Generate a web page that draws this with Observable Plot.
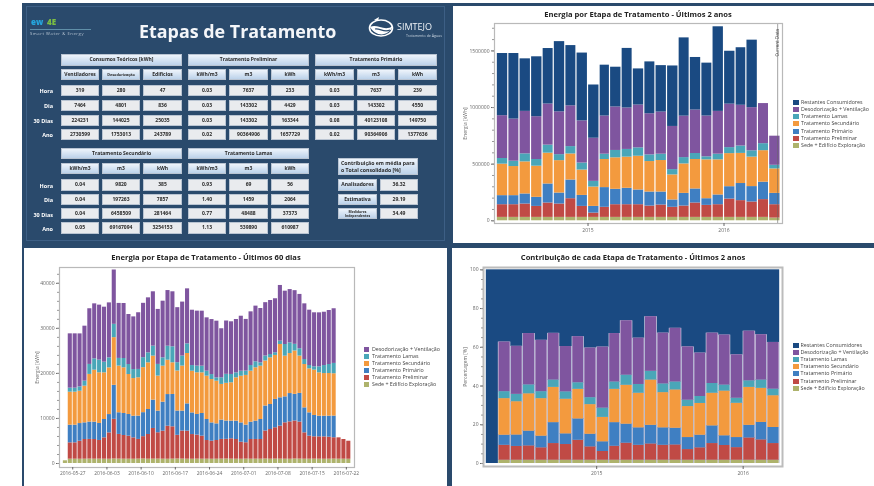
<!DOCTYPE html>
<html lang="pt">
<head>
<meta charset="utf-8">
<script src="https://cdn.jsdelivr.net/npm/d3@7"></script>
<script src="https://cdn.jsdelivr.net/npm/@observablehq/plot@0.6"></script>
<style>
html,body{margin:0;padding:0;background:#fff;width:874px;height:486px;overflow:hidden}
#root{position:relative;width:874px;height:486px;font-family:"Open Sans",sans-serif;filter:blur(.65px)}
.abs{position:absolute}
.panel{position:absolute;background:#fff}
.cell{position:absolute;display:flex;align-items:center;justify-content:center;text-align:center;font-size:5px;color:#2a2a2a;font-weight:700;box-sizing:border-box;line-height:5.5px;border:.5px solid #b9c4d2}
.head{background:linear-gradient(#eef4fb,#bcd2ea)}
.val{background:#e9ebee}
.rowlab{position:absolute;color:#fff;font-weight:700;font-size:5.5px;text-align:right;width:30px}
.title{position:absolute;font-weight:700;font-size:7.6px;color:#222;white-space:nowrap;transform:translateX(-50%);font-family:"Open Sans",sans-serif}
.leg{position:absolute;font-size:5.3px;color:#444;white-space:nowrap;line-height:7px}
.sw{position:absolute;width:5.5px;height:5px}
svg{display:block}
</style>
</head>
<body>
<div id="root"></div>
<script>
// ---- Table values ----
const rowNames = ["Hora","Dia","30 Dias","Ano"];
const consumosTitulo = "Consumos Teóricos [kWh]";
const consumosCols = ["Ventiladores","Desodorização","Edifícios"];
const consumos = [[319,280,47],[7464,4801,836],[224231,144025,25035],[2730599,1753013,243789]];
const unidades = ["kWh/m3","m3","kWh"];
const preliminar = [["0.03",7637,233],["0.03",143302,4429],["0.03",143302,163344],["0.02",90364906,1657729]];
const primario = [["0.03",7637,239],["0.03",143302,4550],["0.08",40123108,149750],["0.02",90364906,1377636]];
const secundario = [["0.04",9820,385],["0.04",197263,7857],["0.04",6458509,281464],["0.05",69167094,3254153]];
const lamas = [["0.93",69,56],["1.40",1459,2064],["0.77",48488,37373],["1.13",539890,610987]];
const contribNomes = ["Analisadores","Estimativa","Medidores Independentes"];
const contribValores = ["36.32","29.19","34.49"];

// ---- Series names and colours ----
const etapas = ["Sede + Edifício Exploração","Tratamento Preliminar","Tratamento Primário","Tratamento Secundário","Tratamento Lamas","Desodorização + Ventilação","Restantes Consumidores"];
const cores = ["#aeb36c","#c04a45","#3f7fc2","#f39a3e","#4aa6b8","#7f559f","#1a4a82"];

// ---- Monthly energy, last 2 years (MWh) ----
const m2Sede = [30,30,30,30,30,30,30,30,30,30,30,30,30,30,30,30,30,30,30,30,30,30,30,30,24];
const m2Prelim = [112,112,118,97,127,118,165,97,38,89,112,112,112,100,109,89,100,127,106,112,162,148,136,157,118];
const m2Prim = [80,80,89,80,168,97,165,97,59,174,136,145,130,124,115,65,112,124,59,86,109,151,136,154,100];
const m2Sec = [278,257,283,275,272,286,230,224,171,248,278,275,298,269,278,221,260,260,343,310,292,266,260,278,216];
const m2Lamas = [50,47,71,59,71,53,65,62,50,47,65,68,74,59,56,47,56,53,27,50,53,65,56,62,32];
const m2Desod = [378,372,375,378,363,378,360,372,381,337,384,366,378,363,372,381,366,384,360,378,384,360,381,354,257];
const m2Rest = [549,579,464,529,490,620,532,599,470,449,351,526,319,458,410,534,691,464,467,747,467,508,596,0,0];

// ---- Share per stage, last 2 years (%) ----
const pSede = [0,1.7,1.7,1.7,1.7,1.7,1.7,1.7,1.7,1.7,1.7,1.7,1.7,1.7,1.7,1.7,1.7,1.7,1.7,1.7,1.7,1.7,1.7,1.7];
const pPrelim = [0,7.7,7.1,7.4,6.4,8.6,8.1,10.3,6.9,4.5,7.2,8.8,7.7,8.4,7.7,7.9,5.5,6.4,8.6,7.6,6.5,11.5,10.5,8.6];
const pPrim = [0,5.2,5.9,7.6,6.0,10.8,5.5,11.0,6.5,5.0,12.2,9.8,9.0,9.6,9.0,8.6,6.2,6.5,9.1,5.0,5.2,6.5,9.0,8.3];
const pSec = [0,18.9,17.2,19.3,19.4,18.2,17.9,15.3,15.3,12.6,17.2,20.1,17.9,23.4,18.2,19.8,16.0,16.4,16.9,23.1,17.7,19.6,17.6,16.4];
const pLamas = [0,3.6,3.8,4.6,3.6,3.8,3.8,3.4,3.6,4.8,3.8,5.2,4.5,4.5,4.5,4.1,3.3,3.6,5.0,3.1,2.6,3.4,4.3,3.4];
const pDesod = [0,25.6,24.8,26.5,26.5,24.1,23.4,23.8,25.6,31.5,25.0,28.1,23.9,28.2,26.2,27.7,27.5,22.4,26.0,25.8,22.4,25.6,23.4,24.1];
const pRest = [100,37.2,39.6,32.9,36.3,32.7,39.6,34.4,40.3,39.9,32.9,26.3,35.3,24.1,32.7,30.1,39.8,43.0,32.7,33.7,43.9,31.5,33.6,37.5];

// ---- Daily energy, last 60 days (kWh) ----
const dSede = [600,960,960,950,960,980,960,970,960,950,1000,980,960,960,950,980,1000,960,970,980,960,950,970,1000,980,960,950,970,960,960,950,960,980,1000,970,960,950,980,960,970,960,1000,960,980,970,960,950,1000,980,960,960,970,960,950,960,980,960,960,950];
const dPrelim = [0,3626,3626,3996,4366,4366,4366,4144,4736,5846,8806,5476,5254,5106,4736,4366,4958,5476,6808,5846,6216,7326,7178,5254,6216,6216,5476,5328,5106,4144,3996,4144,4366,4366,4514,4366,3774,3626,4366,4366,4366,6216,6586,6956,7326,8066,8288,8436,8214,5846,5106,4958,4958,4958,4884,4736,4736,4366,3996];
const dPrim = [0,3922,3922,3922,3700,3848,3848,3774,4070,4070,7548,4810,4884,4810,4810,5180,5328,5550,6290,4810,6438,7030,7178,5402,4440,6068,4810,4588,5032,4662,4070,3700,4292,4070,3922,4070,4292,3922,3848,4070,4440,5550,5550,6290,6290,5772,6290,5920,6364,5550,5180,4736,4588,4588,4662,4810,0,0,0];
const dSec = [0,7326,7326,7178,8140,10582,11544,11248,10360,10360,10582,10360,10138,8880,8362,8510,9990,10360,9768,7770,7992,7622,7030,8880,9990,11174,9250,9250,9028,9620,9620,9472,7918,8362,8510,9620,10360,11026,11322,11840,11840,9990,10360,9768,11840,9028,8880,9620,8288,9620,9768,10064,9620,9472,9472,9398,0,0,0];
const dLamas = [0,888,888,962,1110,2220,2516,2812,2368,2220,2960,1702,2072,2220,1998,1850,2220,2220,2220,2590,1850,3108,3552,1850,2220,2146,1258,1480,1480,1110,1110,740,1480,1998,1850,1110,1110,962,1258,1332,740,1110,740,592,740,2590,2368,1480,1628,1110,740,740,1332,1776,1998,2294,0,0,0];
const dDesod = [0,12062,12062,11766,12210,12358,12210,12210,12210,12210,12062,12210,12210,11100,11692,12580,12062,12210,12062,12210,12580,12358,12210,12210,11988,12210,12284,12210,12210,11840,12210,12580,10878,11840,11692,11840,12210,11470,11914,12358,12062,11840,11988,11988,12358,11840,11840,11914,12062,12358,12284,11988,11988,11840,11988,12136,0,0,0];

// ---- Ticks ----
const anosTicks = [new Date(Date.UTC(2015,0,1)), new Date(Date.UTC(2016,0,1))];
const diasTicks = ["2016-05-27","2016-06-03","2016-06-10","2016-06-17","2016-06-24","2016-07-01","2016-07-08","2016-07-15","2016-07-22"].map(s=>new Date(s));
const currentData = new Date("2016-05-24");
const ticksAnual = [0,500000,1000000,1500000];
const ticksDiario = [0,10000,20000,30000,40000];
const ticksPct = [0,20,40,60,80,100];

// ---- helpers ----
function rows(start, step, arrays, names, factor=1){
  const out=[];
  const n=arrays[0].length;
  for(let i=0;i<n;i++){
    let acc=0;
    const x1=step.offset(start,i), x2=step.offset(start,i+1);
    arrays.forEach((a,k)=>{
      const v=a[i]*factor;
      if(v>0) out.push({x1,x2,key:names[k],y1:acc,y2:acc+v});
      acc+=v;
    });
  }
  return out;
}
const root=document.getElementById("root");
function add(html,css,cls){const d=document.createElement("div");d.className=cls||"abs";if(css)d.style.cssText+=css;d.innerHTML=html||"";root.appendChild(d);return d;}
const colorOpt={domain:etapas,range:cores};
const axCol="#666";

// dark backdrop + panels
add("","left:22px;top:3px;width:852px;height:483px;background:#2a4a6c");
add("","left:24px;top:248px;width:423px;height:238px;background:#fff","panel");
add("","left:453px;top:6px;width:421px;height:237px;background:#fff","panel");
add("","left:452px;top:248px;width:422px;height:238px;background:#fff","panel");
add("","left:26px;top:6px;width:419px;height:235px;border:1px solid #3d5f85;box-sizing:border-box");

function place(el,x,y){const w=document.createElement("div");w.className="abs";w.style.left=x+"px";w.style.top=y+"px";w.appendChild(el);root.appendChild(w);}
function legend(names,x,y0,dy,tx){names.forEach((n,i)=>{
  add("",`left:${x}px;top:${y0+i*dy-2.5}px;background:${cores[etapas.indexOf(n)]}`,"sw");
  add(n,`left:${tx}px;top:${y0+i*dy-3.5}px`,"leg");
});}
function titulo(t,cx,cy){add(t,`left:${cx}px;top:${cy-6}px`,"title");}
const style={background:"transparent",fontFamily:"'Open Sans',sans-serif",fontSize:"5px",overflow:"visible"};
const yLabel=(label,offset,ticks)=>Plot.axisY({ticks,label,labelAnchor:"center",labelArrow:"none",labelOffset:offset,tickFormat:d3.format("d"),color:axCol,tickSize:3,tickPadding:2,fontSize:5});

// ---- Chart 1: top right ----
const r1=rows(new Date(Date.UTC(2014,4,1)),d3.utcMonth,[m2Sede,m2Prelim,m2Prim,m2Sec,m2Lamas,m2Desod,m2Rest],etapas,1000);
const c1=Plot.plot({width:421,height:237,marginLeft:41,marginRight:92,marginTop:17,marginBottom:20,style,
  x:{type:"utc",domain:[new Date("2014-04-25"),new Date("2016-06-06")]},
  y:{domain:[-24000,1742000]},color:colorOpt,
  marks:[
    Plot.rect(r1,{x1:"x1",x2:"x2",y1:"y1",y2:"y2",fill:"key",insetLeft:.6,insetRight:.6}),
    Plot.ruleX([currentData],{stroke:"#666",strokeWidth:.6}),
    Plot.text([currentData],{x:d=>d,y:[1540000],text:["Current Data"],rotate:-90,dy:-3.5,fontSize:4.5,fill:"#444"}),
    Plot.frame({stroke:"#b9b9b9",strokeWidth:1.2}),
    yLabel("Energia [kWh]",31,ticksAnual),
    Plot.axisY({ticks:d3.range(0,1750000,100000),text:null,tickSize:2,color:"#999",label:null}),
    Plot.axisX({ticks:anosTicks,tickFormat:d3.utcFormat("%Y"),tickSize:3,color:axCol,label:null,fontSize:5,tickPadding:2})
  ]});
place(c1,453,6);
titulo("Energia por Etapa de Tratamento - Últimos 2 anos",638,15);
legend([...etapas].reverse(),793,102.5,7.15,801);

// ---- Chart 2: bottom left ----
const r2=rows(new Date("2016-05-25"),d3.utcDay,[dSede,dPrelim,dPrim,dSec,dLamas,dDesod],etapas);
const c2=Plot.plot({width:423,height:236,marginLeft:35,marginRight:93,marginTop:19,marginBottom:17,style,
  x:{type:"utc",domain:[new Date("2016-05-24T07:00Z"),new Date("2016-07-23T16:00Z")]},
  y:{domain:[-888,43512]},color:colorOpt,
  marks:[
    Plot.rect(r2,{x1:"x1",x2:"x2",y1:"y1",y2:"y2",fill:"key",insetLeft:.4,insetRight:.4}),
    Plot.frame({stroke:"#b9b9b9",strokeWidth:1.2}),
    yLabel("Energia [kWh]",24,ticksDiario),
    Plot.axisY({ticks:d3.range(0,44000,2000),text:null,tickSize:2,color:"#999",label:null}),
    Plot.axisX({ticks:diasTicks,tickFormat:d3.utcFormat("%Y-%m-%d"),tickSize:2.5,color:axCol,label:null,fontSize:4.9,tickPadding:2})
  ]});
place(c2,24,248);
titulo("Energia por Etapa de Tratamento - Últimos 60 dias",206,257.5);
legend(etapas.slice(0,6).reverse(),363.5,349,7.1,372);

// ---- Chart 3: bottom right ----
const r3=rows(new Date(Date.UTC(2014,3,1)),d3.utcMonth,[pSede,pPrelim,pPrim,pSec,pLamas,pDesod,pRest],etapas);
const isRest=d=>d.key==="Restantes Consumidores";
const c3=Plot.plot({width:422,height:236,marginLeft:31,marginRight:92,marginTop:19,marginBottom:18,style,
  x:{type:"utc",domain:[new Date("2014-03-25"),new Date("2016-04-08")]},
  y:{domain:[-1.55,101.2]},color:colorOpt,
  marks:[
    Plot.rect([{x1:new Date(Date.UTC(2014,3,1)),x2:new Date(Date.UTC(2016,3,1)),y1:0,y2:100,key:etapas[6]}],{x1:"x1",x2:"x2",y1:"y1",y2:"y2",fill:"key"}),
    Plot.rect(r3.filter(d=>!isRest(d)),{x1:"x1",x2:"x2",y1:"y1",y2:"y2",fill:"#e4e0ee"}),
    Plot.rect(r3.filter(d=>!isRest(d)),{x1:"x1",x2:"x2",y1:"y1",y2:"y2",fill:"key",insetLeft:.6,insetRight:.6}),
    Plot.frame({stroke:"#bcbcbc",strokeWidth:2}),
    yLabel("Percentagem [%]",20,ticksPct),
    Plot.axisY({ticks:d3.range(0,101,5),text:null,tickSize:2,color:"#999",label:null}),
    Plot.axisX({ticks:anosTicks,tickFormat:d3.utcFormat("%Y"),tickSize:3,color:axCol,label:null,fontSize:5,tickPadding:2})
  ]});
place(c3,452,248);
titulo("Contribuição de cada Etapa de Tratamento - Últimos 2 anos",633,258);
legend([...etapas].reverse(),793,345.5,7.1,800.5);

// ---- Dashboard table ----
add("Etapas de Tratamento","left:139px;top:13px;font-size:17.9px;font-weight:700;color:#f4f6f9;white-space:nowrap;line-height:36px");
add("ew",'left:31px;top:16px;font-size:8px;font-weight:800;color:#25a6dd;line-height:12px');
add("4E",'left:47px;top:16px;font-size:8px;font-weight:800;color:#7cbf43;line-height:12px');
add("","left:30px;top:29px;width:61px;height:1px;background:#5f8fa8");
add("Smart Water &amp; Energy",'left:30px;top:31px;font-size:4.2px;color:#b4c2d0;letter-spacing:.55px;line-height:6px;white-space:nowrap');
add('<svg width="26" height="24" viewBox="0 0 26 24"><ellipse cx="13" cy="13" rx="11.5" ry="8" fill="none" stroke="#fff" stroke-width="1.6"/><path d="M2 12 C9 8 16 17 25 11 C20 22 8 22 2 12Z" fill="#fff"/><path d="M7 14 C12 13 16 18 22 15" stroke="#2a4a6c" stroke-width="1.2" fill="none"/><path d="M6 5 L11 2 L10 6Z" fill="#fff"/></svg>',"left:368px;top:15px");
add("SIMTEJO",'left:397px;top:20px;font-size:9px;font-weight:400;color:#eef2f6;line-height:14px');
add("Tratamento de Águas",'left:406px;top:33px;font-size:3.6px;color:#c6d2de;line-height:5px;white-space:nowrap');

function cell(t,x0,x1,y0,y1,cls,extra){add(String(t),`left:${x0}px;top:${y0}px;width:${x1-x0}px;height:${y1-y0}px;${extra||""}`,"cell "+cls);}
const colsA=[[61,99],[102,140],[143,182]],colsB=[[188,226],[229,268],[271,309]],colsC=[[315,354],[357,395],[398,437]];
const rowY1=[[85,96],[100,111],[115,126],[129,140]];
const rowY2=[[179,190.5],[193.5,205],[208,219],[222,233.5]];
function grupo(titulo,sub,vals,cols,hy,sy,ry){
  cell(titulo,cols[0][0],cols[2][1],hy[0],hy[1],"head");
  sub.forEach((s,j)=>cell(s,cols[j][0],cols[j][1],sy[0],sy[1],"head",s.length>12?"font-size:3.8px":""));
  vals.forEach((r,i)=>r.forEach((v,j)=>cell(v,cols[j][0],cols[j][1],ry[i][0],ry[i][1],"val")));
}
grupo(consumosTitulo,consumosCols,consumos,colsA,[54,66],[69,80],rowY1);
grupo("Tratamento Preliminar",unidades,preliminar,colsB,[54,66],[69,80],rowY1);
grupo("Tratamento Primário",unidades,primario,colsC,[54,66],[69,80],rowY1);
grupo("Tratamento Secundário",unidades,secundario,colsA,[148,159],[163,174],rowY2);
grupo("Tratamento Lamas",unidades,lamas,colsB,[148,159],[163,174],rowY2);
rowNames.forEach((n,i)=>{
  add(n,`left:23px;top:${rowY1[i][0]+2}px`,"rowlab");
  add(n,`left:23px;top:${rowY2[i][0]+2.5}px`,"rowlab");
});
cell("Contribuição em média para<br>o Total consolidado [%]",338,418,158,175,"head","font-size:5.2px;text-align:left;justify-content:flex-start;padding-left:2px;line-height:6.5px");
contribNomes.forEach((n,i)=>{
  cell(n,338,377,rowY2[i][0],rowY2[i][1],"head",n.length>12?"font-size:3.4px;line-height:4px":"");
  cell(contribValores[i],380,418,rowY2[i][0],rowY2[i][1],"val");
});
</script>
</body>
</html>
